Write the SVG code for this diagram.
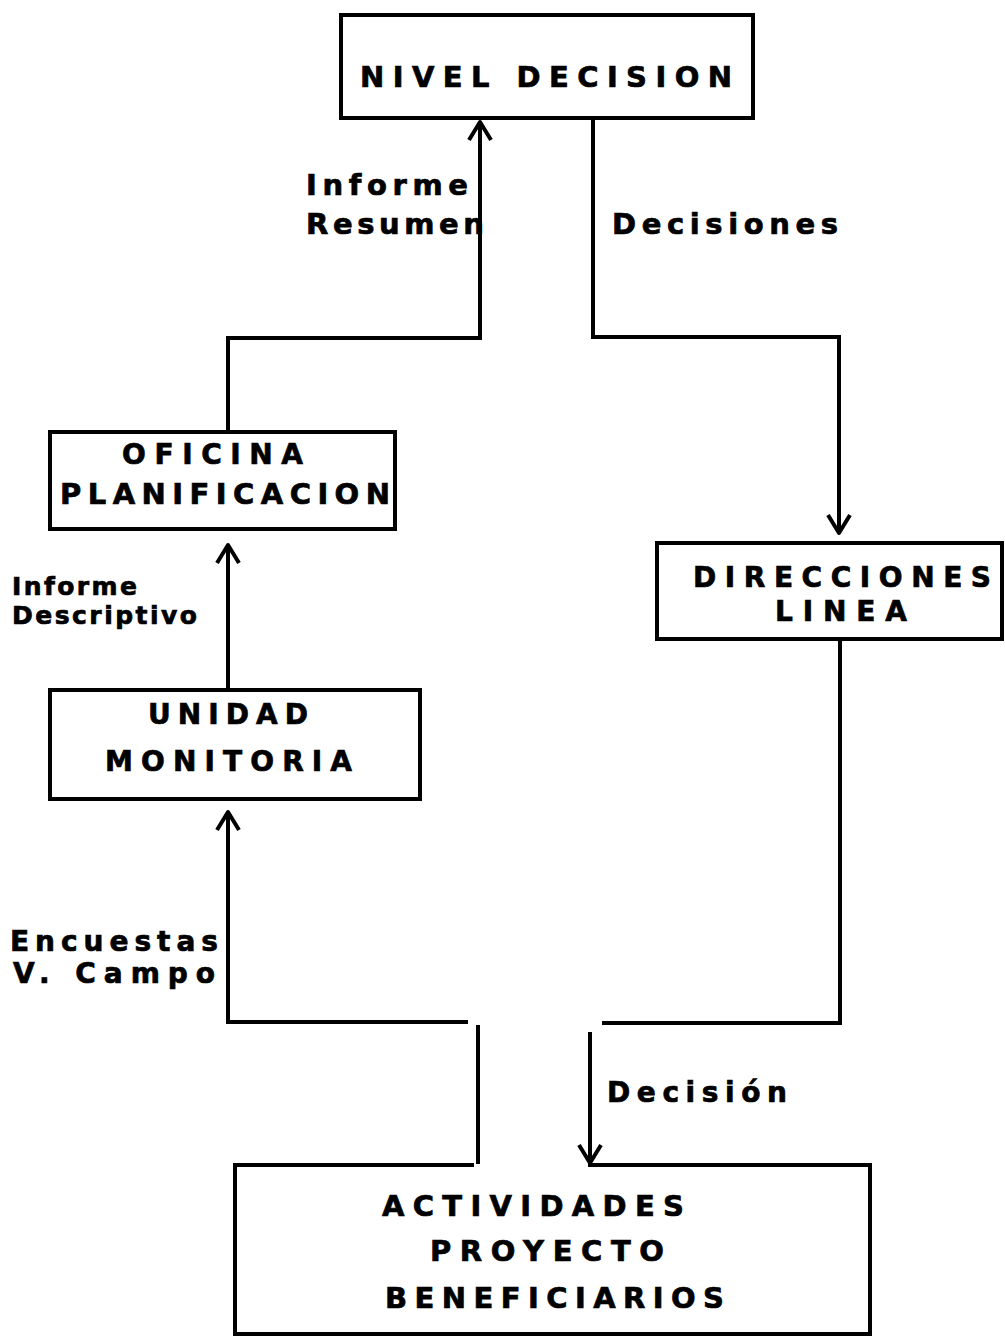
<svg xmlns="http://www.w3.org/2000/svg" width="1005" height="1338" viewBox="0 0 1005 1338">
<style>
.box{fill:none;stroke:#000;stroke-width:4;stroke-linejoin:miter}
.con{fill:none;stroke:#000;stroke-width:4}
text{font-family:"DejaVu Sans","Liberation Sans",Arial,sans-serif;font-weight:bold;fill:#000;stroke:#000;stroke-width:0.7}
.t1{font-size:29px}
.t2{font-size:28px}
.t3{font-size:25px}
</style>
<defs>
<marker id="arr" viewBox="-22 -14 26 28" refX="0" refY="0" markerWidth="26" markerHeight="28" markerUnits="userSpaceOnUse" orient="auto">
<path d="M-18,-11 L0,0 L-18,11" fill="none" stroke="#000" stroke-width="4" stroke-linejoin="round"/>
</marker>
</defs>
<rect width="1005" height="1338" fill="#fff"/>
<g id="connectors">
<path class="con" d="M228,430 V338 H480 V122" marker-end="url(#arr)"/>
<path class="con" d="M593,118 V337 H839 V533" marker-end="url(#arr)"/>
<path class="con" d="M228,688 V545" marker-end="url(#arr)"/>
<path class="con" d="M478,1164 V1025 M468,1022 H228 V812" marker-end="url(#arr)"/>
<path class="con" d="M840,640 V1023 H602 M590,1032 V1163" marker-end="url(#arr)"/>
</g>
<g id="labels">
<text class="t1" x="306" y="195" textLength="162" lengthAdjust="spacing">Informe</text>
<text class="t1" x="306" y="234" textLength="178" lengthAdjust="spacing">Resumen</text>
<text class="t1" x="612" y="234" textLength="226" lengthAdjust="spacing">Decisiones</text>
<text class="t3" x="12" y="595" textLength="125" lengthAdjust="spacing">Informe</text>
<text class="t3" x="12" y="624" textLength="185" lengthAdjust="spacing">Descriptivo</text>
<text class="t2" x="10" y="951" textLength="208" lengthAdjust="spacing">Encuestas</text>
<text class="t2" x="13" y="983" textLength="202" lengthAdjust="spacing">V. Campo</text>
<text class="t2" x="607" y="1102" textLength="180" lengthAdjust="spacing">Decisión</text>
</g>
<g id="nivel-decision">
<rect class="box" x="341" y="15" width="412" height="103"/>
<text class="t1" x="360" y="87" textLength="372" lengthAdjust="spacing">NIVEL DECISION</text>
</g>
<g id="oficina-planificacion">
<rect class="box" x="50" y="432" width="345" height="97"/>
<text class="t2" x="122" y="464" textLength="181" lengthAdjust="spacing">OFICINA</text>
<text class="t1" x="60" y="504" textLength="330" lengthAdjust="spacing">PLANIFICACION</text>
</g>
<g id="direcciones-linea">
<rect class="box" x="657" y="543" width="345" height="96"/>
<text class="t2" x="693" y="587" textLength="298" lengthAdjust="spacing">DIRECCIONES</text>
<text class="t2" x="775" y="621" textLength="132" lengthAdjust="spacing">LINEA</text>
</g>
<g id="unidad-monitoria">
<rect class="box" x="50" y="690" width="370" height="109"/>
<text class="t2" x="148" y="724" textLength="160" lengthAdjust="spacing">UNIDAD</text>
<text class="t2" x="105" y="771" textLength="247" lengthAdjust="spacing">MONITORIA</text>
</g>
<g id="actividades-proyecto">
<path class="box" d="M474,1165 H235 V1334 H870 V1165 H588"/>
<text class="t1" x="382" y="1216" textLength="302" lengthAdjust="spacing">ACTIVIDADES</text>
<text class="t1" x="430" y="1261" textLength="234" lengthAdjust="spacing">PROYECTO</text>
<text class="t1" x="385" y="1308" textLength="339" lengthAdjust="spacing">BENEFICIARIOS</text>
</g>
</svg>
